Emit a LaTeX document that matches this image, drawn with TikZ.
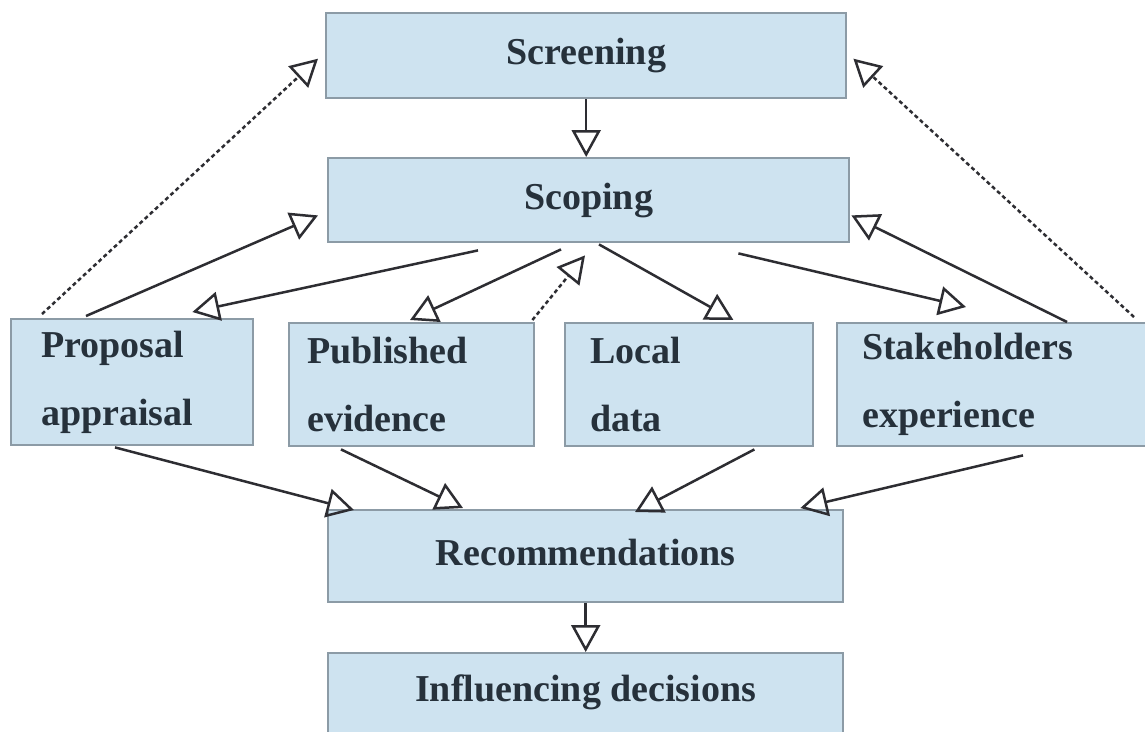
\documentclass[tikz,border=0pt]{standalone}
\usepackage{fontspec}
\setmainfont{Liberation Serif}
\usetikzlibrary{arrows.meta,calc}
\definecolor{boxfill}{RGB}{206,227,240}
\definecolor{boxline}{RGB}{140,155,166}
\definecolor{txt}{RGB}{38,49,59}
\definecolor{arr}{RGB}{45,45,50}
\tikzset{
  box/.style={draw=boxline, line width=2.4pt, fill=boxfill, inner sep=0pt, anchor=north west,
    font=\fontsize{38}{68}\selectfont\bfseries, text=txt},
  midbox/.style={box, align=left, inner xsep=30pt, text width=#1},
  conn/.style={draw=arr, line width=2.5pt, -{Triangle[open,length=27pt,width=29pt,line width=2.5pt]}},
  dconn/.style={conn, dash pattern=on 4pt off 3pt},
}
\begin{document}
\begin{tikzpicture}[x=1pt,y=-1pt]
\useasboundingbox (0,0) rectangle (1145,731);
\fill[white] (0,0) rectangle (1145,731);
% boxes
\node[box, minimum width=520pt, minimum height=85pt] (sc) at (325,12) {\raisebox{2pt}{Screening}};
\node[box, minimum width=521pt, minimum height=84pt] (sp) at (327,157) {\raisebox{3pt}{Scoping}};
\node[midbox=182pt, minimum width=242pt, minimum height=126pt] (pa) at (10,318) {Proposal\\appraisal};
\node[box, align=left, inner xsep=18pt, text width=209pt, minimum width=245pt, minimum height=123pt] (pe) at (288,322) {Published\\evidence};
\node[box, align=left, inner xsep=25pt, text width=198pt, minimum width=248pt, minimum height=123pt] (ld) at (564,322) {Local\\data};
\node[box, align=left, inner xsep=25pt, text width=264pt, minimum width=314pt, minimum height=123pt] (st) at (836,322) {Stakeholders\\experience};
\node[box, minimum width=515pt, minimum height=92pt] (rc) at (327,509) {\raisebox{7pt}{Recommendations}};
\node[box, minimum width=515pt, minimum height=88pt, text depth=0pt] (in) at (327,652) {\raisebox{19pt}{Influencing decisions}};
% connectors
\draw[conn] (sc.south) -- (sc.south |- sp.north);
\draw[conn] ($(pa.north west)+(76,-2)$) -- ($(sp.south west)+(-9,-28)$);
\draw[dconn] ($(pa.north west)+(32,-4)$) -- ($(sc.west)+(-7,3)$);
\draw[conn] ($(sp.south west)+(151,7)$) -- ($(pa.north east)+(-62,-6)$);
\draw[conn] ($(sp.south west)+(234,6)$) -- ($(pe.north west)+(122,-2)$);
\draw[dconn] ($(pe.north east)+(-3,-2)$) -- ($(sp.south west)+(258,12)$);
\draw[conn] ($(sp.south west)+(272,1)$) -- ($(ld.north east)+(-81,-2)$);
\draw[conn] ($(sp.south east)+(-112,10)$) -- ($(st.north west)+(130,-15)$);
\draw[conn] ($(st.north west)+(231,0)$) -- ($(sp.south east)+(1,-28)$);
\draw[dconn] ($(st.north west)+(298,-5)$) -- ($(sc.east)+(6,3)$);
\draw[conn] ($(pa.south west)+(105,1)$) -- ($(rc.north west)+(27,1)$);
\draw[conn] ($(pe.south west)+(53,2)$) -- ($(rc.north west)+(136,-1)$);
\draw[conn] ($(ld.south east)+(-60,2)$) -- ($(rc.north west)+(308,3)$);
\draw[conn] ($(st.south west)+(187,8)$) -- ($(rc.north east)+(-44,-1)$);
\draw[conn] (rc.south) -- (in.north);
\end{tikzpicture}
\end{document}
